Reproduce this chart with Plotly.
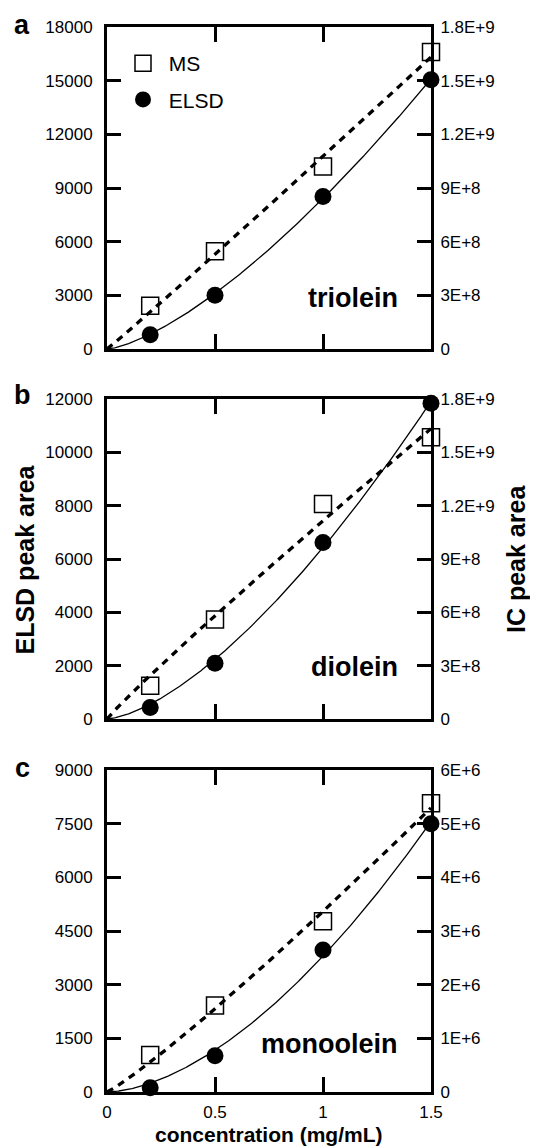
import numpy as np
import plotly.graph_objects as go

# ---------------- data ----------------
conc = [0.2, 0.5, 1.0, 1.5]

tri_elsd = [800, 3000, 8530, 15050]
tri_ms = [2.42e8, 5.46e8, 1.02e9, 1.66e9]

di_elsd = [435, 2090, 6620, 11840]
di_ms = [1.87e8, 5.6e8, 1.21e9, 1.585e9]

mono_elsd = [122, 1010, 3970, 7500]
mono_ms = [6.9e5, 1.61e6, 3.18e6, 5.38e6]

panel_names = ["triolein", "diolein", "monoolein"]
panel_letters = ["a", "b", "c"]

elsd_ticks = [
    [0, 3000, 6000, 9000, 12000, 15000, 18000],
    [0, 2000, 4000, 6000, 8000, 10000, 12000],
    [0, 1500, 3000, 4500, 6000, 7500, 9000],
]
ms_ticks = [
    [0, 3e8, 6e8, 9e8, 1.2e9, 1.5e9, 1.8e9],
    [0, 3e8, 6e8, 9e8, 1.2e9, 1.5e9, 1.8e9],
    [0, 1e6, 2e6, 3e6, 4e6, 5e6, 6e6],
]
ms_ticktext = [
    ["0", "3E+8", "6E+8", "9E+8", "1.2E+9", "1.5E+9", "1.8E+9"],
    ["0", "3E+8", "6E+8", "9E+8", "1.2E+9", "1.5E+9", "1.8E+9"],
    ["0", "1E+6", "2E+6", "3E+6", "4E+6", "5E+6", "6E+6"],
]
x_ticks = [0, 0.5, 1, 1.5]
x_ticktext = ["0", "0.5", "1", "1.5"]

elsd_data = [tri_elsd, di_elsd, mono_elsd]
ms_data = [tri_ms, di_ms, mono_ms]


# ---------------- power-law fit  y = a * x^b (least squares) ----------------
def power_fit(x, y):
    x = np.asarray(x, float)
    y = np.asarray(y, float)
    best = None
    for b in np.linspace(0.5, 3.0, 2501):
        xb = x ** b
        a = (y @ xb) / (xb @ xb)
        sse = ((y - a * xb) ** 2).sum()
        if best is None or sse < best[0]:
            best = (sse, a, b)
    return best[1], best[2]


xfit = np.linspace(0, 1.5, 301)

# ---------------- layout geometry (page pixels) ----------------
OFF = 8                      # default body margin of the html page
W, H = 538 - OFF, 1148 - OFF


def px(x):
    return (x - OFF) / W


def py(y):
    return 1 - (y - OFF) / H


X0, X1 = 107, 431
panels_px = [(27, 349), (399, 719), (770, 1092)]

FONT = "Liberation Sans, Arial, sans-serif"
NB = "\u00a0"

fig = go.Figure()
layout = dict(
    width=W, height=H, margin=dict(l=0, r=0, t=0, b=0, autoexpand=False),
    paper_bgcolor="white", plot_bgcolor="white",
    font=dict(family=FONT, size=17, color="black"),
    showlegend=True,
    legend=dict(
        x=px(123), y=py(43), xanchor="left", yanchor="top",
        bgcolor="rgba(0,0,0,0)", font=dict(size=21, family=FONT),
        tracegroupgap=6, itemsizing="trace",
    ),
)
annotations = []

for i in range(3):
    xa = "x" if i == 0 else f"x{i + 1}"
    ya = "y" if i == 0 else f"y{2 * i + 1}"
    ya2 = f"y{2 * i + 2}"
    top, bot = panels_px[i]
    dom = [py(bot), py(top)]

    # fits
    a_e, b_e = power_fit(conc, elsd_data[i])
    a_m, b_m = power_fit(conc, ms_data[i])
    fig.add_trace(go.Scatter(
        x=xfit, y=a_e * xfit ** b_e, mode="lines",
        line=dict(color="black", width=1.3), xaxis=xa, yaxis=ya,
        showlegend=False, hoverinfo="skip"))
    fig.add_trace(go.Scatter(
        x=xfit, y=a_m * xfit ** b_m, mode="lines",
        line=dict(color="black", width=3.3, dash="7px,6px"), xaxis=xa, yaxis=ya2,
        showlegend=False, hoverinfo="skip"))

    # markers
    fig.add_trace(go.Scatter(
        x=conc, y=ms_data[i], mode="markers", name=NB + "MS",
        marker=dict(symbol="square-open", size=17, color="black",
                    line=dict(width=1.5, color="black")),
        xaxis=xa, yaxis=ya2, cliponaxis=False,
        showlegend=(i == 0), legendgroup="ms"))
    fig.add_trace(go.Scatter(
        x=conc, y=elsd_data[i], mode="markers", name=NB + "ELSD",
        marker=dict(symbol="circle", size=17, color="black"),
        xaxis=xa, yaxis=ya, cliponaxis=False,
        showlegend=(i == 0), legendgroup="elsd"))

    xkey = "xaxis" if i == 0 else f"xaxis{i + 1}"
    ykey = "yaxis" if i == 0 else f"yaxis{2 * i + 1}"
    y2key = f"yaxis{2 * i + 2}"

    layout[xkey] = dict(
        domain=[px(X0), px(X1)], range=[0, 1.5], anchor=ya, automargin=False,
        showline=True, linecolor="black", linewidth=3, mirror="ticks",
        ticks="inside", ticklen=15, tickwidth=3, tickcolor="black",
        tickvals=x_ticks, ticktext=x_ticktext,
        showticklabels=(i == 2), showgrid=False, zeroline=False,
        tickfont=dict(size=17, family=FONT), ticklabelstandoff=3,
    )
    layout[ykey] = dict(
        domain=dom, range=[0, elsd_ticks[i][-1]], anchor=xa, automargin=False,
        showline=True, linecolor="black", linewidth=3,
        ticks="inside", ticklen=14, tickwidth=3, tickcolor="black",
        tickvals=elsd_ticks[i], ticktext=[str(v) for v in elsd_ticks[i]],
        showgrid=False, zeroline=False, tickfont=dict(size=17, family=FONT),
        ticklabelstandoff=8,
    )
    layout[y2key] = dict(
        domain=dom, range=[0, ms_ticks[i][-1]], anchor=xa, overlaying=ya,
        automargin=False,
        side="right", showline=True, linecolor="black", linewidth=3,
        ticks="inside", ticklen=14, tickwidth=3, tickcolor="black",
        tickvals=ms_ticks[i], ticktext=ms_ticktext[i],
        showgrid=False, zeroline=False, tickfont=dict(size=17, family=FONT),
        ticklabelstandoff=3,
    )

    # compound name
    name_y = [298, 667, 1044][i]
    annotations.append(dict(
        text=f"<b>{panel_names[i]}</b>", x=px(400), y=py(name_y),
        xref="paper", yref="paper", xanchor="right", yanchor="middle",
        showarrow=False, font=dict(size=27, family=FONT)))
    # panel letter
    letter_y = [25, 395, 768][i]
    annotations.append(dict(
        text=f"<b>{panel_letters[i]}</b>", x=px(22), y=py(letter_y),
        xref="paper", yref="paper", xanchor="center", yanchor="middle",
        showarrow=False, font=dict(size=27, family=FONT)))

annotations.append(dict(
    text="<b>ELSD peak area</b>", x=px(24.5), y=py(560), textangle=-90,
    xref="paper", yref="paper", xanchor="center", yanchor="middle",
    showarrow=False, font=dict(size=25, family=FONT)))
annotations.append(dict(
    text="<b>IC peak area</b>", x=px(516), y=py(559), textangle=-90,
    xref="paper", yref="paper", xanchor="center", yanchor="middle",
    showarrow=False, font=dict(size=25, family=FONT)))
annotations.append(dict(
    text="<b>concentration (mg/mL)</b>", x=px((X0 + X1) / 2), y=py(1134),
    xref="paper", yref="paper", xanchor="center", yanchor="middle",
    showarrow=False, font=dict(size=21, family=FONT)))

layout["annotations"] = annotations
fig.update_layout(**layout)
fig.write_html("out.html")
